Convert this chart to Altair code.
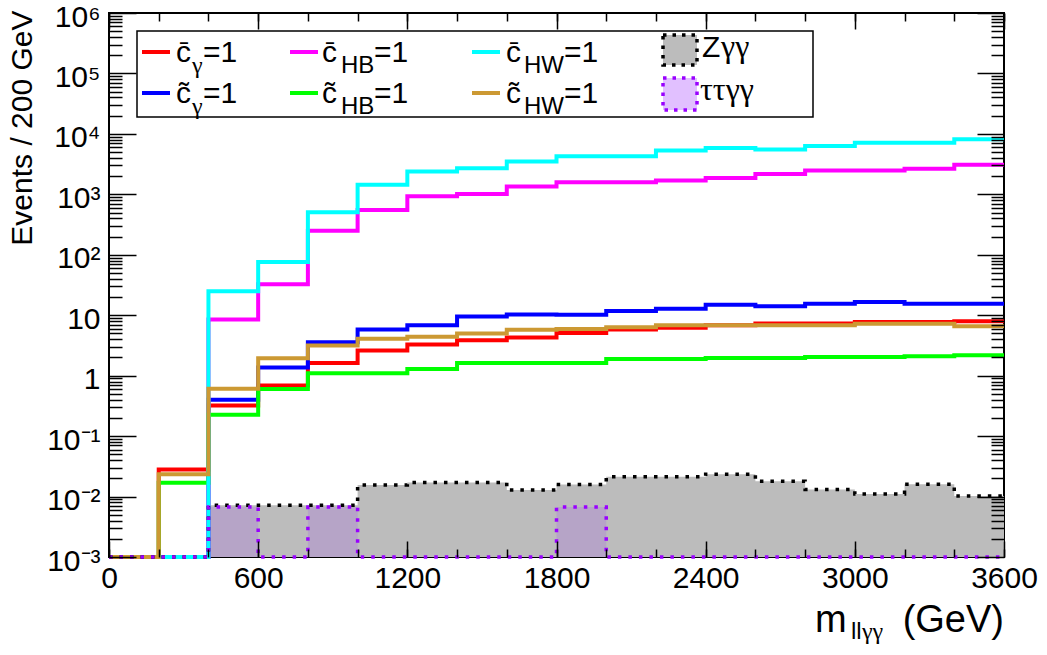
import json
import pandas as pd
import altair as alt

SANS = "Liberation Sans"
SERIF = "Liberation Serif"
FLOOR = 1e-3

# ---------------- data ----------------
bin_edges = [0, 200, 400, 600, 800, 1000, 1200, 1400, 1600, 1800, 2000,
             2200, 2400, 2600, 2800, 3000, 3200, 3400, 3600]

cbar_gamma = [0, 0.028, 0.32, 0.69, 1.62, 2.6, 3.27, 3.86, 4.3, 5.1, 5.8, 6.2, 6.8, 7.3, 7.3, 7.7, 7.7, 7.95]
ctil_gamma = [0, 0, 0.40, 1.37, 3.57, 5.8, 6.8, 9.5, 10.3, 10.2, 11.7, 12.8, 14.9, 14.1, 15.5, 16.5, 15.5, 15.5]
cbar_HB = [0, 0, 8.5, 32.5, 250, 550, 930, 1015, 1350, 1590, 1590, 1690, 1870, 2180, 2470, 2470, 2650, 3100]
ctil_HB = [0, 0.017, 0.225, 0.60, 1.1, 1.1, 1.29, 1.62, 1.62, 1.62, 1.89, 1.89, 1.96, 1.96, 2.04, 2.04, 2.09, 2.17]
cbar_HW = [0, 0, 25, 76, 504, 1445, 2380, 2700, 3500, 4270, 4270, 5320, 5840, 5500, 6300, 7140, 7140, 8130]
ctil_HW = [0, 0.0235, 0.61, 1.94, 3.15, 4.07, 4.4, 5.0, 5.75, 5.9, 6.35, 6.85, 6.8, 6.8, 6.8, 7.2, 7.2, 6.6]
z_gg = [0, 0, 0.0072, 0.0072, 0.0072, 0.0155, 0.0171, 0.0171, 0.0128, 0.0159, 0.0213, 0.0213, 0.0235, 0.018, 0.0131, 0.011, 0.016, 0.0102]
tautau_gg = [0, 0, 0.0067, 0, 0.0067, 0, 0, 0, 0, 0.0067, 0, 0, 0, 0, 0, 0, 0, 0]

x_major = [0, 600, 1200, 1800, 2400, 3000, 3600]
x_labels = ["0", "600", "1200", "1800", "2400", "3000", "3600"]
y_major = [1e-3, 1e-2, 1e-1, 1, 10, 100, 1e3, 1e4, 1e5, 1e6]
y_labels = ["10\u207b\u00b3", "10\u207b\u00b2", "10\u207b\u00b9", "1", "10",
            "10\u00b2", "10\u00b3", "10\u2074", "10\u2075", "10\u2076"]
y_minor = [k * 10.0 ** e for e in range(-3, 6) for k in range(2, 10)]
x_minor = bin_edges

# ---------------- helpers ----------------
xs = alt.Scale(domain=[0, 3600], nice=False, zero=False)
ys = alt.Scale(type="log", domain=[1e-3, 1e6], nice=False)


def hist_df(vals):
    v = [max(a, FLOOR) for a in vals]
    return pd.DataFrame({"m": bin_edges, "n": v + [v[-1]]})


def tick_axis(orient, values, size):
    return alt.Axis(orient=orient, values=values, offset=-size, tickSize=size,
                    labels=False, domain=False, grid=False, title=None,
                    tickColor="black", tickWidth=1.5, zindex=1)


x_lab_axis = alt.Axis(orient="bottom", values=x_major,
                      labelExpr=f"{json.dumps(x_labels)}[round(datum.value/600)]",
                      ticks=False, domain=False, grid=False, title=None,
                      labelFont=SANS, labelFontSize=30, labelColor="black",
                      labelPadding=6, labelFlush=False, labelOverlap=False)

y_lab_axis = alt.Axis(orient="left", values=y_major,
                      labelExpr=f"{json.dumps(y_labels, ensure_ascii=False)}[round(log(datum.value)/LN10)+3]",
                      ticks=False, domain=False, grid=False,
                      labelFont=SANS, labelFontSize=30, labelColor="black",
                      labelPadding=9, labelOffset=4, labelFlush=False, labelOverlap=False,
                      title="Events / 200 GeV", titleFont=SANS, titleFontSize=30,
                      titleFontWeight="normal", titleColor="black", titleAngle=270,
                      titleAlign="right", titleBaseline="alphabetic",
                      titleX=-78, titleY=-3)


def one():
    return alt.Data(values=[{}])


def txt(s, x, y, size=30, font=SANS):
    return alt.Chart(one()).mark_text(text=s, fontSize=size, font=font, align="left",
                                      baseline="alphabetic", color="black").encode(
        x=alt.value(x), y=alt.value(y))


layers = []

# backgrounds: filled areas
layers.append(
    alt.Chart(hist_df(z_gg)).mark_area(interpolate="step-after", color="#bcbcbc").encode(
        x=alt.X("m:Q", scale=xs, axis=x_lab_axis),
        y=alt.Y("n:Q", scale=ys, axis=y_lab_axis),
        y2=alt.datum(FLOOR)))
layers.append(
    alt.Chart(hist_df(tautau_gg)).mark_area(interpolate="step-after", color="#9b30ff",
                                            opacity=0.17).encode(
        x=alt.X("m:Q", scale=xs, axis=None),
        y=alt.Y("n:Q", scale=ys, axis=None),
        y2=alt.datum(FLOOR)))

# signals (drawing order as in reference)
signals = [
    (cbar_gamma, "#ff0000", tick_axis("bottom", x_major, 16), tick_axis("left", y_major, 27)),
    (ctil_gamma, "#0000ff", tick_axis("bottom", x_minor, 8), tick_axis("left", y_minor, 13)),
    (cbar_HB, "#ff00ff", tick_axis("top", x_major, 16), tick_axis("right", y_major, 27)),
    (ctil_HB, "#00ff00", tick_axis("top", x_minor, 8), tick_axis("right", y_minor, 13)),
    (cbar_HW, "#00ffff", None, None),
    (ctil_HW, "#cc9933", None, None),
]
for vals, col, xax, yax in signals:
    layers.append(
        alt.Chart(hist_df(vals)).mark_line(interpolate="step-after", color=col,
                                           strokeWidth=4).encode(
            x=alt.X("m:Q", scale=xs, axis=xax),
            y=alt.Y("n:Q", scale=ys, axis=yax)))

# dotted outlines of backgrounds
for vals, col in [(z_gg, "black"), (tautau_gg, "#9900ff")]:
    layers.append(
        alt.Chart(hist_df(vals)).mark_line(interpolate="step-after", color=col,
                                           strokeWidth=3.5, strokeDash=[3.5, 7]).encode(
            x=alt.X("m:Q", scale=xs, axis=None),
            y=alt.Y("n:Q", scale=ys, axis=None)))

# ---------------- legend ----------------
layers.append(alt.Chart(one()).mark_rect(fill="white", stroke="black", strokeWidth=1.5).encode(
    x=alt.value(28), x2=alt.value(704), y=alt.value(18), y2=alt.value(104)))

leg_lines = [(33, 61, 39, "#ff0000"), (33, 61, 80, "#0000ff"),
             (181, 209, 39, "#ff00ff"), (181, 209, 80, "#00ff00"),
             (363, 391, 39, "#00ffff"), (363, 391, 80, "#cc9933")]
for x1, x2, y, col in leg_lines:
    layers.append(alt.Chart(one()).mark_rule(color=col, strokeWidth=4).encode(
        x=alt.value(x1), x2=alt.value(x2), y=alt.value(y)))

BAR = "c\u0304"
TIL = "c\u0303"
for base, r in [(BAR, 49), (TIL, 90)]:
    layers += [txt(base, 67, r), txt("\u03b3", 83, r + 11, 24, SERIF), txt("=1", 94, r)]
    layers += [txt(base, 213, r), txt("HB", 232, r + 11, 24), txt("=1", 265, r)]
    layers += [txt(base, 397, r), txt("HW", 415, r + 11, 24), txt("=1", 455, r)]

for y1, y2, fill, op, stroke in [(22, 52, "#bcbcbc", 1, "black"), (65, 97, "#9b30ff", 0.3, "#9900ff")]:
    layers.append(alt.Chart(one()).mark_rect(fill="white").encode(
        x=alt.value(554), x2=alt.value(588), y=alt.value(y1), y2=alt.value(y2)))
    layers.append(alt.Chart(one()).mark_rect(fill=fill, fillOpacity=op, stroke=stroke,
                                             strokeWidth=3.5, strokeDash=[3.5, 6]).encode(
        x=alt.value(554), x2=alt.value(588), y=alt.value(y1), y2=alt.value(y2)))

layers += [txt("Z", 593, 44), txt("\u03b3\u03b3", 612, 44, 32, SERIF),
           txt("\u03c4\u03c4\u03b3\u03b3", 591, 87, 32, SERIF)]

# ---------------- x title ----------------
layers += [txt("m", 706, 619, 38), txt("ll", 742, 626, 24), txt("\u03b3\u03b3", 753, 626, 24, SERIF),
           alt.Chart(one()).mark_text(text="(GeV)", fontSize=38, font=SANS, align="right",
                                      baseline="alphabetic", color="black").encode(
               x=alt.value(895), y=alt.value(619))]

chart = alt.layer(*layers).resolve_axis(x="independent", y="independent").properties(
    width=895, height=544,
    autosize=alt.AutoSizeParams(type="none"),
    padding={"left": 109, "top": 13, "right": 43, "bottom": 98},
    background="white",
).configure_view(stroke="black", strokeWidth=2)

chart.save("out.html", embed_options={"renderer": "svg", "actions": False})
